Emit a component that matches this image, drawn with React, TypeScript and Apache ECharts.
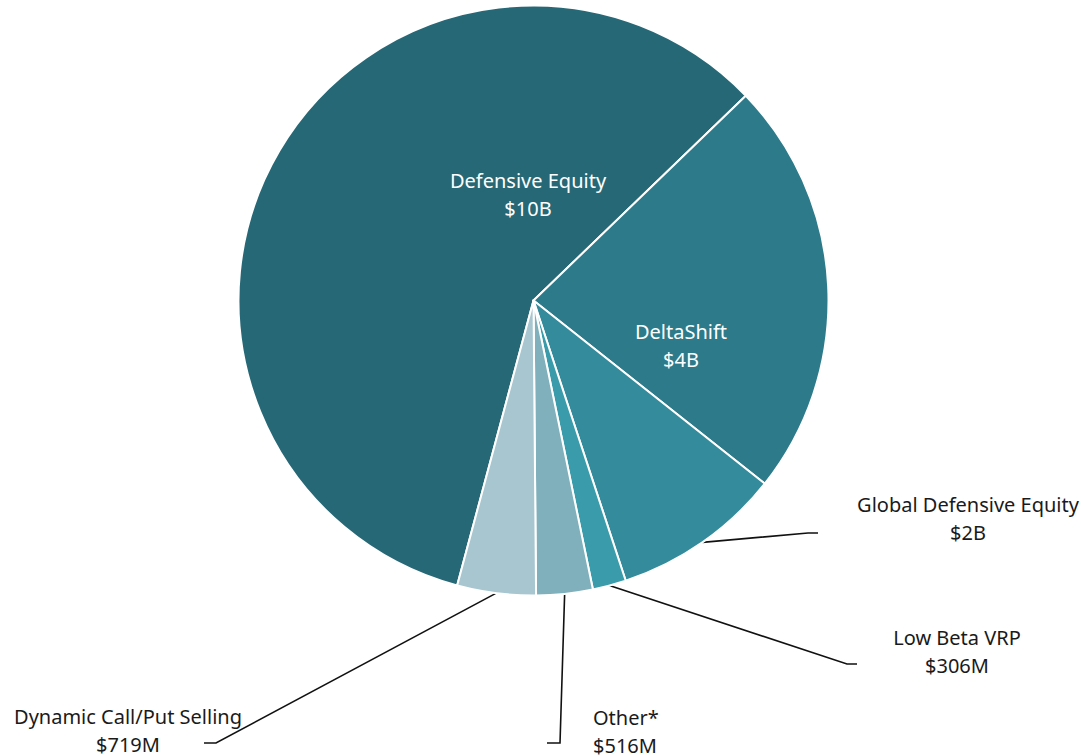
import React, { useEffect, useRef } from "react";
import * as echarts from "echarts";

// ---- data ----
const categories = [
  "Defensive Equity",
  "DeltaShift",
  "Global Defensive Equity",
  "Low Beta VRP",
  "Other*",
  "Dynamic Call/Put Selling",
];
// assets in $ millions
const assetsM = [9790, 3820, 1550, 306, 516, 719];
const insideLabels = ["Defensive Equity", "DeltaShift"];

// ---- styling ----
const palette = ["#266876", "#2d7a8a", "#338b9c", "#3a9cab", "#7fb0bc", "#a7c6cf"];
const FONT = "'Noto Sans', 'Open Sans', sans-serif";

// label placement (container pixel coordinates)
const placement: Record<string, { x: number; y: number; align: string; elbow?: number[]; end?: number[] }> = {
  "Defensive Equity": { x: 528, y: 194, align: "center" },
  DeltaShift: { x: 681, y: 345, align: "center" },
  "Global Defensive Equity": { x: 968, y: 518, align: "center", elbow: [808, 533], end: [818, 533] },
  "Low Beta VRP": { x: 957, y: 651, align: "center", elbow: [847, 664], end: [857, 664] },
  "Other*": { x: 593, y: 731, align: "left", elbow: [560, 743], end: [547, 743] },
  "Dynamic Call/Put Selling": { x: 128, y: 730, align: "center", elbow: [216, 743], end: [204, 743] },
};

const CX = 533.5;
const CY = 300.5;
const R = 295;
const START = 255;

function fmt(v: number): string {
  return v >= 1000 ? `$${Math.round(v / 1000)}B` : `$${v}M`;
}

export default function App() {
  const ref = useRef<HTMLDivElement>(null);
  useEffect(() => {
    if (!ref.current) return;
    const chart = echarts.init(ref.current, null, { renderer: "svg" });
    const total = assetsM.reduce((a, b) => a + b, 0);
    const midAngles: number[] = [];
    let acc = START;
    assetsM.forEach((v) => {
      const span = (v / total) * 360;
      midAngles.push(acc - span / 2);
      acc -= span;
    });

    const data = categories.map((name, i) => {
      const inside = insideLabels.includes(name);
      return {
        name,
        value: assetsM[i],
        itemStyle: { color: palette[i] },
        label: inside
          ? { position: "inside", color: "#ffffff" }
          : { position: "outside", color: "#1a1a1a" },
        labelLine: { show: !inside },
      };
    });

    chart.setOption({
      animation: false,
      backgroundColor: "#ffffff",
      series: [
        {
          type: "pie",
          center: [CX, CY],
          radius: R,
          startAngle: START,
          clockwise: true,
          avoidLabelOverlap: false,
          data,
          itemStyle: { borderColor: "#ffffff", borderWidth: 2 },
          label: {
            show: true,
            fontFamily: FONT,
            fontSize: 20,
            lineHeight: 28,
            formatter: (p: any) => `${p.name}\n${fmt(p.value)}`,
          },
          labelLine: {
            show: true,
            length: 20,
            length2: 10,
            lineStyle: { color: "#111111", width: 1.6 },
          },
          emphasis: { disabled: true },
          labelLayout: (params: any) => {
            const name = categories[params.dataIndex];
            const p = placement[name];
            if (!p) return {};
            const out: any = { x: p.x, y: p.y, align: p.align, verticalAlign: "middle" };
            if (p.elbow && p.end) {
              const a = (midAngles[params.dataIndex] * Math.PI) / 180;
              const start =
                params.labelLinePoints && params.labelLinePoints[0]
                  ? params.labelLinePoints[0]
                  : [CX + R * Math.cos(a), CY - R * Math.sin(a)];
              out.labelLinePoints = [start, p.elbow, p.end];
            }
            return out;
          },
        },
      ],
    });
    return () => chart.dispose();
  }, []);
  return (
    <div
      ref={ref}
      style={{ position: "absolute", left: 0, top: 0, width: 1081, height: 756 }}
    />
  );
}
